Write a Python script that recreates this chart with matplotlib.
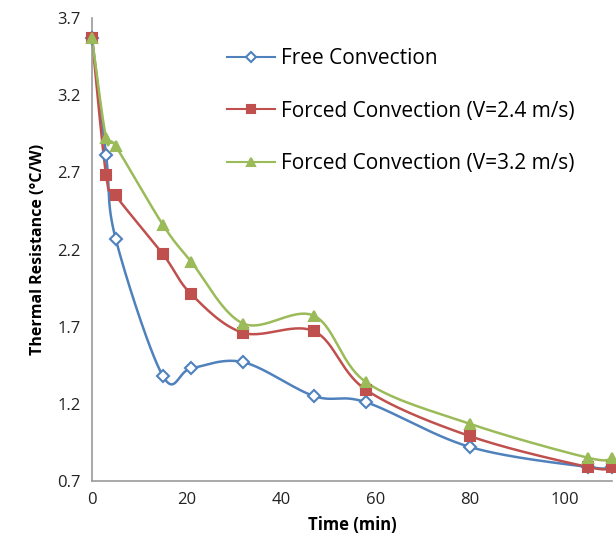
import numpy as np
import matplotlib
matplotlib.use("Agg")
import matplotlib.pyplot as plt

time = [0, 3, 5, 15, 21, 32, 47, 58, 80, 105, 110]
free_conv = [3.57, 2.81, 2.27, 1.38, 1.43, 1.47, 1.25, 1.21, 0.92, 0.79, 0.79]
forced_24 = [3.57, 2.68, 2.55, 2.17, 1.91, 1.66, 1.67, 1.29, 0.99, 0.79, 0.79]
forced_32 = [3.57, 2.92, 2.87, 2.36, 2.12, 1.72, 1.77, 1.34, 1.07, 0.85, 0.85]
labels = ["Free Convection", "Forced Convection (V=2.4 m/s)", "Forced Convection (V=3.2 m/s)"]


def smooth(x, y, n=30):
    # excel-style smoothed line (catmull-rom bezier)
    x = np.asarray(x, float)
    y = np.asarray(y, float)
    px = np.concatenate([[x[0]], x, [x[-1]]])
    py = np.concatenate([[y[0]], y, [y[-1]]])
    xs, ys = [], []
    t = np.linspace(0, 1, n)
    for i in range(1, len(px) - 2):
        p0 = np.array([px[i], py[i]])
        p3 = np.array([px[i + 1], py[i + 1]])
        c1 = p0 + (np.array([px[i + 1], py[i + 1]]) - np.array([px[i - 1], py[i - 1]])) / 6
        c2 = p3 - (np.array([px[i + 2], py[i + 2]]) - np.array([px[i], py[i]])) / 6
        b = ((1 - t) ** 3)[:, None] * p0 + (3 * (1 - t) ** 2 * t)[:, None] * c1 \
            + (3 * (1 - t) * t ** 2)[:, None] * c2 + (t ** 3)[:, None] * p3
        xs.extend(b[:, 0])
        ys.extend(b[:, 1])
    return xs, ys


plt.rcParams["font.family"] = ["Open Sans", "DejaVu Sans"]
fig = plt.figure(figsize=(6.16, 5.47), dpi=100)
ax = fig.add_axes([92 / 616, 1 - 481 / 547, 520 / 616, 463 / 547])

series = [
    (free_conv, "#4F81BD", "D", "white", 6.5),
    (forced_24, "#C0504D", "s", "#C0504D", 7),
    (forced_32, "#9BBB59", "^", "#9BBB59", 7.5),
]
for (vals, col, mk, fc, ms), lab in zip(series, labels):
    sx, sy = smooth(time, vals)
    ax.plot(sx, sy, color=col, lw=1.8, zorder=2, clip_on=False)
    ax.plot(time, vals, ls="none", marker=mk, ms=ms, mfc=fc, mec=col, mew=1.5, zorder=3, clip_on=False)
    ax.plot([], [], color=col, lw=1.5, marker=mk, ms=ms * 0.8, mfc=fc, mec=col, mew=1.5, label=lab)

ax.set_xlim(0, 110)
ax.set_ylim(0.7, 3.7)
ax.set_xticks([0, 20, 40, 60, 80, 100])
ax.set_yticks([0.7, 1.2, 1.7, 2.2, 2.7, 3.2, 3.7])
ax.set_yticklabels(["0.7", "1.2", "1.7", "2.2", "2.7", "3.2", "3.7"])
ax.tick_params(length=0, labelsize=12, colors="#222222", pad=8)
for s in ["top", "right"]:
    ax.spines[s].set_visible(False)
for s in ["left", "bottom"]:
    ax.spines[s].set_color("#999999")
    ax.spines[s].set_linewidth(1.2)

ax.set_xlabel("Time (min)", fontsize=12, fontweight="bold", labelpad=6)
ax.set_ylabel("Thermal Resistance (°C/W)", fontsize=11.5, fontweight="bold", labelpad=8)

ax.legend(loc="upper left", bbox_to_anchor=(0.224, 0.975), frameon=False, fontsize=15,
          handlelength=2.3, labelspacing=1.5, handletextpad=0.3)

fig.savefig("out.png", dpi=100)
